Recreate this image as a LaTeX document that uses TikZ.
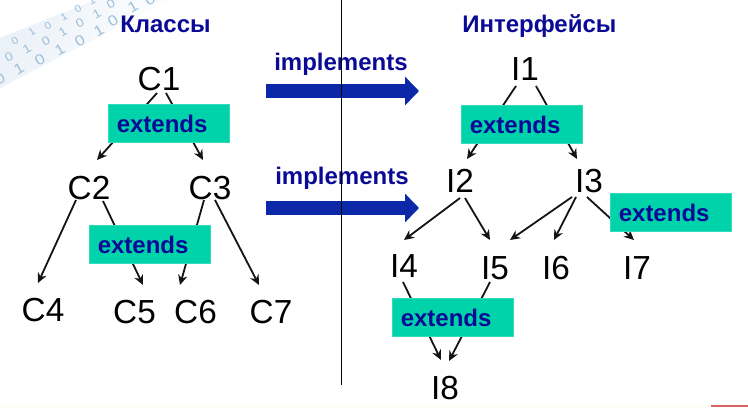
\documentclass[tikz,border=0pt]{standalone}
\usepackage{fontspec}
\setmainfont{Liberation Sans}
\usetikzlibrary{arrows.meta,calc}
\definecolor{boxgreen}{HTML}{00D2AA}
\definecolor{boxedge}{HTML}{30DCBE}
\definecolor{labelblue}{HTML}{0A0A96}
\definecolor{bigblue}{HTML}{0A28A8}
\definecolor{digitblue}{HTML}{9CBFD9}
\definecolor{bandblue}{HTML}{EBF1F8}
\definecolor{cream}{HTML}{FFFEF6}
\definecolor{redline}{HTML}{D86464}
\tikzset{
  vertexnode/.style={inner sep=0pt,outer sep=0pt,anchor=south,text height=18.75pt,text depth=0pt,font=\fontsize{25}{25}\selectfont},
  extendsbox/.style={anchor=north west,fill=boxgreen,draw=boxedge,line width=0.4pt,minimum width=91pt,
    inner xsep=6.6pt,inner ysep=0pt,outer sep=0pt,text width=77.8pt,text height=21pt,text depth=7.5pt,align=left,text=labelblue,font=\fontsize{18}{18}\selectfont\bfseries},
  headlabel/.style={anchor=base west,inner sep=0pt,text=labelblue,font=\fontsize{18}{18}\selectfont\bfseries},
  edgeline/.style={draw=black!92,line width=1.35pt,-{Stealth[length=7.5pt,width=7pt]}},
  bigarrow/.style={draw=bigblue,line width=10.5pt,-{Triangle[length=10.5pt,width=21pt]}},
  dig/.style={text=digitblue,inner sep=0pt,rotate=30,xscale=1.15}
}
\newcommand{\conn}[4]{\draw[edgeline] ($(#1)+(#2)$) -- ($(#3)+(#4)$);}
\newcommand{\digs}[2]{\foreach \xx/\yy/\dd in {#2}{\node[dig,font=\fontsize{#1}{#1}\selectfont] at (\xx,\yy) {\dd};}}
\begin{document}
\begin{tikzpicture}[x=0.75pt,y=-0.75pt]
\useasboundingbox (0,0) rectangle (748,407);
\fill[white] (0,0) rectangle (748,407);
% background decoration
\shade[left color=bandblue,right color=white,shading angle=65] (0,38) -- (95,0) -- (170,0) -- (0,88) -- cycle;
\digs{7.5}{15/41/0,32/32/1,48/26/0,64/17/1,78/9/0,92/1/1}
\digs{9}{9/57/0,27/49/1,46/41/0,63/32/1,80/23/0,97/14/1,111/4/0}
\digs{11}{0/79/0,19/69/1,40/60/0,60/50/1,80/41/0,99/31/1,113/21/0,133/7/1,150/0/0}
\fill[cream] (0,404) rectangle (748,407);
\fill[redline] (711,405) rectangle (748,406.5);
% headings
\node[headlabel] (hC) at (120,32) {Классы};
\node[headlabel] (hI) at (462,32) {Интерфейсы};
\node[headlabel] (im1) at (274,70) {implements};
\node[headlabel] (im2) at (275,184) {implements};
% big arrows
\coordinate (a1s) at (266,91); \coordinate (a1e) at (419,91);
\coordinate (a2s) at (266,208); \coordinate (a2e) at (419,208);
\draw[bigarrow] (a1s) -- (a1e);
\draw[bigarrow] (a2s) -- (a2e);
% divider
\coordinate (dt) at (341.5,0); \coordinate (db) at (341.5,385);
\draw[black,line width=0.75pt] (dt) -- (db);
% nodes
\node[vertexnode] (C1) at (159,90) {C1};
\node[vertexnode] (C2) at (89,199) {C2};
\node[vertexnode] (C3) at (210,199) {C3};
\node[vertexnode] (C4) at (43,321) {C4};
\node[vertexnode] (C5) at (134.5,323) {C5};
\node[vertexnode] (C6) at (195.5,323) {C6};
\node[vertexnode] (C7) at (271,323) {C7};
\node[vertexnode] (I1) at (525,80) {I1};
\node[vertexnode] (I2) at (460,192) {I2};
\node[vertexnode] (I3) at (589,192) {I3};
\node[vertexnode] (I4) at (404,277) {I4};
\node[vertexnode] (I5) at (495,279) {I5};
\node[vertexnode] (I6) at (556,279) {I6};
\node[vertexnode] (I7) at (637,279) {I7};
\node[vertexnode] (I8) at (445,399) {I8};
% connectors
\conn{C1.south}{-2,3}{C2.north}{8,-14}
\conn{C1.south}{7,3}{C3.north}{-7,-14}
\conn{C2.south}{-13,1}{C4.north}{-5,-13}
\conn{C2.south}{14,2}{C5.north}{8.5,-13}
\conn{C3.south}{-6,1}{C6.north}{-15.5,-13}
\conn{C3.south}{5,1}{C7.north}{-12,-13}
\conn{I1.south}{-9,6}{I2.north}{7,-8}
\conn{I1.south}{11,6}{I3.north}{-12,-8}
\conn{I2.south}{0,6}{I4.north}{0,-12}
\conn{I2.south}{5,6}{I5.north}{-5,-14}
\conn{I3.south}{-17,5}{I5.north}{15,-14}
\conn{I3.south}{-13,5}{I6.north}{-2,-14}
\conn{I3.south}{-2,5}{I7.north}{-3,-14}
\conn{I4.south}{-1,5}{I8.north}{-4,-14}
\conn{I5.south}{-5,3}{I8.north}{4,-13}
% extends boxes
\node[extendsbox] (e1) at (108,104) {extends};
\node[extendsbox] (e2) at (89,225) {extends};
\node[extendsbox] (e3) at (461,105) {extends};
\node[extendsbox] (e4) at (610,193) {extends};
\node[extendsbox] (e5) at (392,298) {extends};
\end{tikzpicture}
\end{document}
